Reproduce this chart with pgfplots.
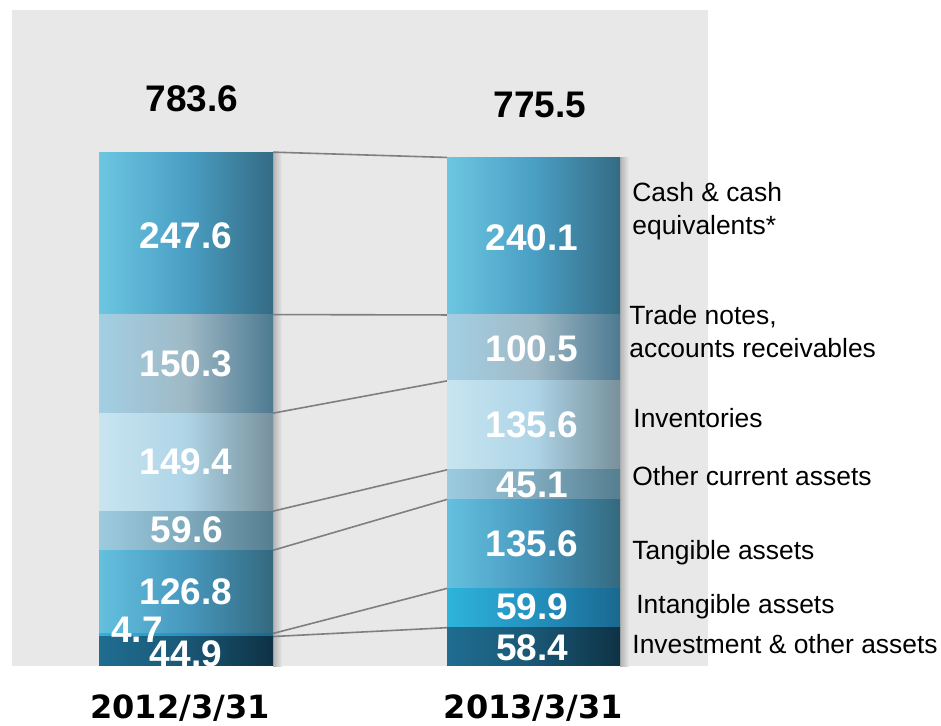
\documentclass[border=0pt]{standalone}
\usepackage{fontspec}
\setmainfont{Liberation Sans}
\newfontfamily\dejavu{DejaVu Sans}
\usepackage{pgfplots}
\pgfplotsset{compat=1.18}

\definecolor{panel}{HTML}{E8E8E8}
\definecolor{conn}{HTML}{7F7F7F}
\definecolor{cashL}{HTML}{6CC6E1}\definecolor{cashM}{HTML}{4A9FC4}\definecolor{cashR}{HTML}{346B84}
\definecolor{tradeL}{HTML}{A3CFE3}\definecolor{tradeM}{HTML}{9FB9C6}\definecolor{tradeR}{HTML}{4D7A91}
\definecolor{invL}{HTML}{C8E4F0}\definecolor{invM}{HTML}{AED5E7}\definecolor{invR}{HTML}{77909C}
\definecolor{othL}{HTML}{9CCBE0}\definecolor{othM}{HTML}{7FA9BC}\definecolor{othR}{HTML}{557E91}
\definecolor{tangL}{HTML}{64C0DE}\definecolor{tangM}{HTML}{4798BE}\definecolor{tangR}{HTML}{34697F}
\definecolor{intL}{HTML}{2EB4DB}\definecolor{intM}{HTML}{2491BF}\definecolor{intR}{HTML}{1A6890}
\definecolor{invsL}{HTML}{1F6D91}\definecolor{invsM}{HTML}{1A5775}\definecolor{invsR}{HTML}{0E3245}

\pgfplotsset{base/.style={scale only axis, width=470.5pt, height=363pt,
  xmin=0, xmax=941, ymin=-91.46, ymax=1015.24, hide axis, clip=false,
  at={(0,0)}, anchor=south west}}

\tikzset{
  vlab/.style={text=white, font=\fontsize{18.5}{20}\selectfont\bfseries, inner sep=0pt, anchor=center},
  tlab/.style={text=black, font=\fontsize{18.5}{20}\selectfont\bfseries, inner sep=0pt, anchor=center},
  ylab/.style={text=black, font=\dejavu\fontsize{16}{18}\selectfont\bfseries, inner sep=0pt, anchor=center},
  rlab/.style={text=black, font=\fontsize{13.2}{15}\selectfont, inner sep=0pt, anchor=base west},
  connector/.style={draw=conn, line width=0.8pt},
  sInvs/.style={draw=none, left color=invsL, right color=invsR, middle color=invsM},
  sInt/.style={draw=none, left color=intL, right color=intR, middle color=intM},
  sTang/.style={draw=none, left color=tangL, right color=tangR, middle color=tangM},
  sOth/.style={draw=none, left color=othL, right color=othR, middle color=othM},
  sInv/.style={draw=none, left color=invL, right color=invR, middle color=invM},
  sTrade/.style={draw=none, left color=tradeL, right color=tradeR, middle color=tradeM},
  sCash/.style={draw=none, left color=cashL, right color=cashR, middle color=cashM},
}

\begin{document}
\begin{tikzpicture}
% background, shadows, connectors
\begin{axis}[base]
\path (rel axis cs:0,0) rectangle (rel axis cs:1,1);
\addplot[fill=panel, draw=none] coordinates {(12,0) (708,0) (708,1000) (12,1000)} --cycle;
\addplot[draw=none, left color=black!30, right color=panel] coordinates {(273,-1.5) (282,-1.5) (282,783.3) (273,783.3)} --cycle;
\addplot[draw=none, left color=black!30, right color=panel] coordinates {(620,-1.5) (629,-1.5) (629,775.2) (620,775.2)} --cycle;
\addplot[connector] coordinates {(273,783.3) (447,775.2)};
\addplot[connector] coordinates {(273,535.7) (447,535.1)};
\addplot[connector] coordinates {(273,385.4) (447,434.6)};
\addplot[connector] coordinates {(273,236.0) (447,299.0)};
\addplot[connector] coordinates {(273,176.4) (447,253.9)};
\addplot[connector] coordinates {(273,49.6) (447,118.3)};
\addplot[connector] coordinates {(273,44.9) (447,58.4)};
\end{axis}

% bar 2012/3/31
\begin{axis}[base, ybar stacked, bar width=87pt, bar shift=0pt]
\addplot[sInvs] coordinates {(186,44.9)};
\addplot[sInt] coordinates {(186,4.7)};
\addplot[sTang] coordinates {(186,126.8)};
\addplot[sOth] coordinates {(186,59.6)};
\addplot[sInv] coordinates {(186,149.4)};
\addplot[sTrade] coordinates {(186,150.3)};
\addplot[sCash] coordinates {(186,247.6)};
\end{axis}

% bar 2013/3/31
\begin{axis}[base, ybar stacked, bar width=86.5pt, bar shift=0pt]
\addplot[sInvs] coordinates {(533.5,58.4)};
\addplot[sInt] coordinates {(533.5,59.9)};
\addplot[sTang] coordinates {(533.5,135.6)};
\addplot[sOth] coordinates {(533.5,45.1)};
\addplot[sInv] coordinates {(533.5,135.6)};
\addplot[sTrade] coordinates {(533.5,100.5)};
\addplot[sCash] coordinates {(533.5,240.1)};
\end{axis}

% text
\begin{axis}[base]
\node[vlab] at (axis cs:186,655.5) {247.6};
\node[vlab] at (axis cs:186,460.4) {150.3};
\node[vlab] at (axis cs:186,311.0) {149.4};
\node[vlab] at (axis cs:187,207.3) {59.6};
\node[vlab] at (axis cs:186,112.8) {126.8};
\node[vlab] at (axis cs:137,54.9) {4.7};
\node[vlab] at (axis cs:186,18.3) {44.9};
\node[vlab] at (axis cs:532,653.2) {240.1};
\node[vlab] at (axis cs:532,483.2) {100.5};
\node[vlab] at (axis cs:532,367.4) {135.6};
\node[vlab] at (axis cs:532,276.7) {45.1};
\node[vlab] at (axis cs:532,186.7) {135.6};
\node[vlab] at (axis cs:532,90.7) {59.9};
\node[vlab] at (axis cs:532,28.2) {58.4};
\node[tlab] at (axis cs:192,864.3) {783.6};
\node[tlab] at (axis cs:540,855.2) {775.5};
\node[ylab] at (axis cs:180,-64) {2012/3/31};
\node[ylab] at (axis cs:533.5,-64) {2013/3/31};
\node[rlab] at (axis cs:632,707.3) {Cash \& cash};
\node[rlab] at (axis cs:632,657.0) {equivalents*};
\node[rlab] at (axis cs:629,519.8) {Trade notes,};
\node[rlab] at (axis cs:629,471.0) {accounts receivables};
\node[rlab] at (axis cs:633,364.3) {Inventories};
\node[rlab] at (axis cs:632,274.4) {Other current assets};
\node[rlab] at (axis cs:632,161.6) {Tangible assets};
\node[rlab] at (axis cs:636,79.3) {Intangible assets};
\node[rlab] at (axis cs:632,18.3) {Investment \& other assets};
\end{axis}
\end{tikzpicture}
\end{document}
